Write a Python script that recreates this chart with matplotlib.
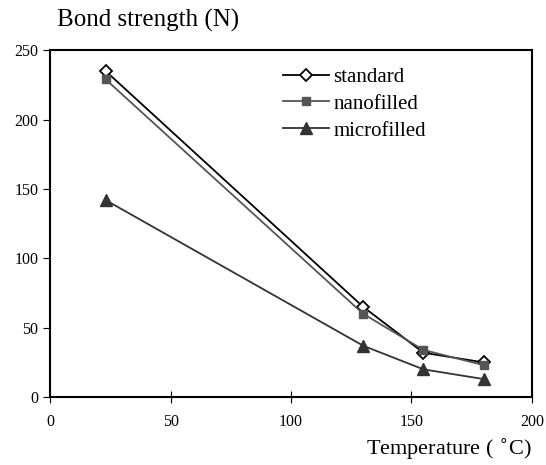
import matplotlib
matplotlib.use('Agg')
import matplotlib.pyplot as plt

plt.rcParams['font.family'] = ['Liberation Serif', 'DejaVu Serif']

# data
temperature = [23, 130, 155, 180]
standard = [235, 65, 32, 25]
nanofilled = [229, 60, 34, 23]
microfilled = [142, 37, 20, 13]

fig = plt.figure(figsize=(5.46, 4.65), dpi=100)
ax = fig.add_axes([0.092, 0.146, 0.882, 0.746])

ax.plot(temperature, standard, color='black', lw=1.3, marker='D', ms=6,
        mfc='white', mec='black', mew=1.3, label='standard')
ax.plot(temperature, nanofilled, color='#555555', lw=1.3, marker='s', ms=6,
        mfc='#555555', mec='#555555', label='nanofilled')
ax.plot(temperature, microfilled, color='#333333', lw=1.3, marker='^', ms=8,
        mfc='#333333', mec='#333333', label='microfilled')

ax.set_xlim(0, 200)
ax.set_ylim(0, 250)
ax.set_xticks([0, 50, 100, 150, 200])
ax.set_yticks([0, 50, 100, 150, 200, 250])
ax.tick_params(axis='x', direction='inout', length=8, labelsize=11.5, pad=8)
ax.tick_params(axis='y', direction='out', length=5, labelsize=11.5)
for s in ax.spines.values():
    s.set_linewidth(1.5)

leg = ax.legend(loc='upper left', bbox_to_anchor=(0.445, 1.005), frameon=False,
                fontsize=15, handlelength=2.2, labelspacing=0.35, handletextpad=0.2)

fig.text(0.105, 0.957, 'Bond strength (N)', fontsize=18, ha='left', va='center')
fig.text(0.975, 0.035, 'Temperature ( $^{\\circ}$C)', fontsize=16, ha='right', va='center')

fig.savefig('out.png', dpi=100)
